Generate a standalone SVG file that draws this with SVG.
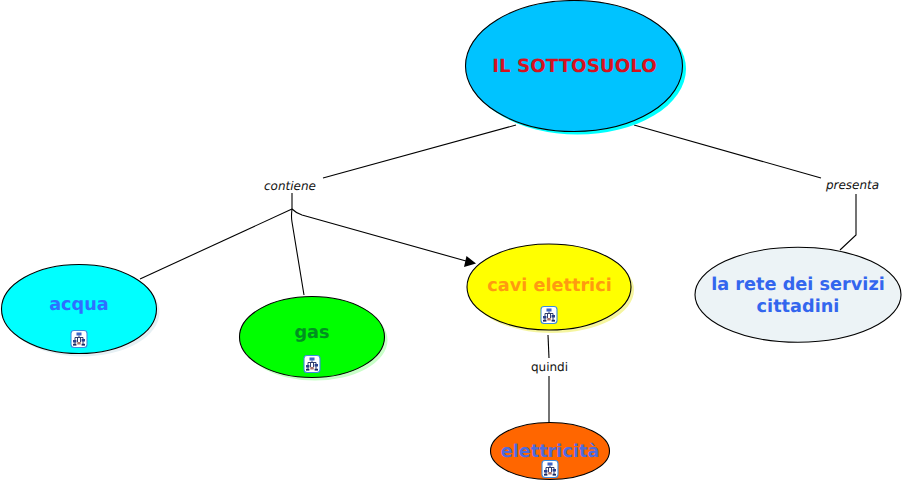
<svg xmlns="http://www.w3.org/2000/svg" xmlns:xlink="http://www.w3.org/1999/xlink" width="903" height="482" viewBox="0 0 903 482">
<style>
.n{stroke:#000;stroke-width:1.1}
.c{fill:none;stroke:#000;stroke-width:1.1}
text{font-family:"DejaVu Sans",Verdana,sans-serif;text-anchor:middle;text-rendering:geometricPrecision}
.t{font-weight:bold;font-size:17.700px}
.m{font-size:18.300px}
.l{font-size:12px;fill:#111}
.i{font-style:italic}
</style>
<defs>
<g id="icon">
<rect x="-8" y="-8.500" width="16" height="17" rx="3" fill="#fff" stroke="#3c8ce0" stroke-width="1.100"/>
<path d="M0-3.500V-1.500M-4 1.500V-1.500H4V1.500M-4 1.500V5.500M4 1.500V5.500M-1.500 3V-1.500M1.500-1.500V3" fill="none" stroke="#1c2a60" stroke-width=".9"/>
<rect x="-2.500" y="-6.500" width="5" height="3" fill="#3f63c4"/>
<rect x="-6" y="1" width="3.400" height="2.500" fill="#2a3f8a"/>
<rect x="2.600" y="0" width="3.400" height="2.500" fill="#2a3f8a"/>
<rect x="-1.700" y="3" width="3.400" height="2.500" fill="#a8706c"/>
<rect x="-6" y="4.800" width="3.400" height="1.800" fill="#1c2a60"/>
<rect x="2.600" y="4.800" width="3.400" height="1.800" fill="#1c2a60"/>
</g>
</defs>
<rect width="903" height="482" fill="#fff"/>
<g id="connectors">
<path class="c" d="M516 125L323 178"/>
<path class="c" d="M634 125L821 178"/>
<path class="c" d="M292 193V209"/>
<path class="c" d="M292 209L140 279"/>
<path class="c" d="M292 209Q291 217 292 222L304 295"/>
<path class="c" d="M292 209Q296 213 302 215L466 261"/>
<path d="M476 263.500L464 267L466.500 256Z" fill="#000"/>
<path class="c" d="M548 335L549 358"/>
<path class="c" d="M549 376V423"/>
<path class="c" d="M856 194V235L840 250"/>
</g>
<g id="node-sottosuolo">
<ellipse cx="577.500" cy="69" rx="108.500" ry="65.500" fill="#00ffff"/>
<ellipse class="n" cx="574" cy="66" rx="108.500" ry="65.500" fill="#00c3ff"/>
<text class="t m" x="574.500" y="72" fill="#d5121f">IL SOTTOSUOLO</text>
</g>
<g id="node-acqua">
<ellipse cx="82" cy="312" rx="77.500" ry="44.500" fill="#e6f0f4"/>
<ellipse class="n" cx="79" cy="309" rx="77.500" ry="44.500" fill="#00ffff"/>
<text class="t" x="79" y="310" fill="#2f6fff">acqua</text>
<use xlink:href="#icon" href="#icon" x="79" y="339"/>
</g>
<g id="node-gas">
<ellipse cx="315" cy="340" rx="72.500" ry="40.500" fill="#c8ffc8"/>
<ellipse class="n" cx="312" cy="337" rx="72.500" ry="40.500" fill="#00ff00"/>
<text class="t" x="312" y="338" fill="#009020">gas</text>
<use xlink:href="#icon" href="#icon" x="312" y="364"/>
</g>
<g id="node-cavi">
<ellipse cx="552" cy="290" rx="82" ry="43" fill="#f5f5a0"/>
<ellipse class="n" cx="549" cy="287" rx="82" ry="43" fill="#ffff00"/>
<text class="t" x="549.500" y="291" fill="#ff9a10">cavi elettrici</text>
<use xlink:href="#icon" href="#icon" x="549" y="315"/>
</g>
<g id="node-elettricita">
<ellipse class="n" cx="550" cy="451" rx="59.500" ry="28.500" fill="#ff6600"/>
<text class="t" x="550" y="457" fill="#4f6bdd">elettricità</text>
<use xlink:href="#icon" href="#icon" x="550" y="469"/>
</g>
<g id="node-rete">
<ellipse class="n" cx="798" cy="294.700" rx="103" ry="47.500" fill="#ecf3f6"/>
<text class="t" x="798" y="290" fill="#3366ee">la rete dei servizi</text>
<text class="t" x="798" y="312" fill="#3366ee">cittadini</text>
</g>
<g id="label-contiene"><text class="l i" x="290" y="189.500">contiene</text></g>
<g id="label-presenta"><text class="l i" x="852.500" y="188.500">presenta</text></g>
<g id="label-quindi"><text class="l" x="549.500" y="370.500">quindi</text></g>
</svg>
